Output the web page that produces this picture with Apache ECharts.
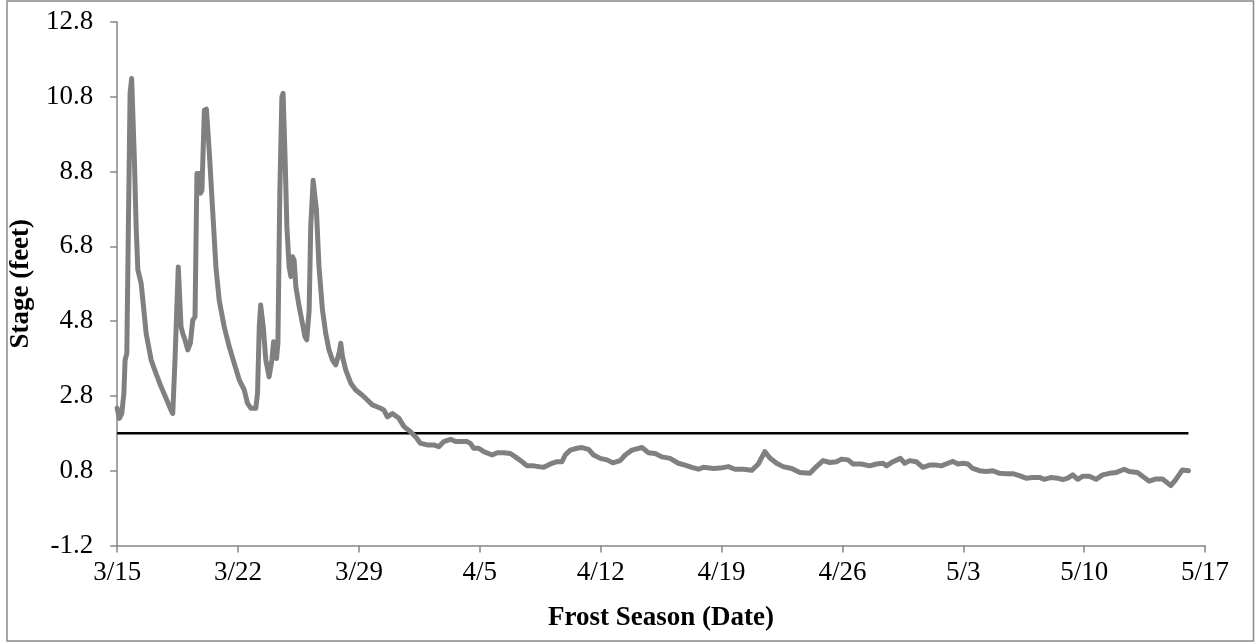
<!DOCTYPE html>
<html>
<head>
<meta charset="utf-8">
<script src="https://cdn.jsdelivr.net/npm/echarts@6/dist/echarts.min.js"></script>
<style>
html,body{margin:0;padding:0;background:#fff;}
#chart{width:1255px;height:643px;}
</style>
</head>
<body>
<div id="chart"></div>
<script>
// Days since 3/15 (x) and river stage in feet (y)
const days = [0.0,0.13,0.27,0.39,0.46,0.56,0.65,0.75,0.84,1.0,1.1,1.2,1.39,1.49,1.68,1.97,2.25,2.54,2.83,3.12,3.22,3.35,3.54,3.7,3.8,3.93,4.09,4.24,4.38,4.51,4.62,4.76,4.82,4.91,5.05,5.17,5.34,5.53,5.72,5.91,6.2,6.49,6.78,7.07,7.36,7.55,7.75,8.03,8.13,8.23,8.31,8.46,8.61,8.8,8.96,9.06,9.15,9.23,9.31,9.42,9.54,9.61,9.73,9.83,9.96,10.06,10.16,10.25,10.35,10.54,10.73,10.88,10.98,11.12,11.21,11.35,11.45,11.54,11.69,11.89,12.08,12.27,12.47,12.66,12.85,12.95,13.05,13.24,13.53,13.82,14.2,14.49,14.78,15.26,15.45,15.65,15.94,16.32,16.61,16.99,17.28,17.57,17.96,18.34,18.63,18.92,19.31,19.6,19.98,20.27,20.46,20.65,20.94,21.23,21.72,22.01,22.39,22.77,23.06,23.45,23.74,24.12,24.41,24.7,25.09,25.47,25.76,25.95,26.24,26.63,26.92,27.3,27.59,27.98,28.36,28.71,29.13,29.42,29.81,30.39,30.77,31.16,31.54,32.02,32.5,32.89,33.28,33.66,33.95,34.53,34.91,35.39,35.78,36.26,36.75,37.13,37.51,37.8,38.19,38.57,39.06,39.54,40.12,40.5,40.88,41.27,41.66,41.95,42.33,42.62,43.1,43.58,43.97,44.35,44.55,44.93,45.36,45.61,45.9,46.28,46.66,47.05,47.44,47.73,48.11,48.4,48.69,48.98,49.27,49.55,49.94,50.33,50.71,51.1,51.48,51.87,52.25,52.64,53.02,53.41,53.7,54.09,54.47,54.76,55.05,55.34,55.63,55.91,56.3,56.69,57.07,57.46,57.84,58.32,58.61,59.09,59.38,59.77,60.16,60.54,61.02,61.31,61.69,62.04];
const stage = [2.47,2.2,2.33,2.87,3.76,3.94,7.32,10.9,11.29,9.1,7.32,6.17,5.81,5.36,4.47,3.76,3.4,3.05,2.74,2.42,2.33,3.76,6.25,4.65,4.47,4.3,4.03,4.21,4.83,4.92,8.75,8.75,8.22,8.3,10.44,10.47,9.29,7.77,6.25,5.36,4.65,4.12,3.67,3.23,2.96,2.6,2.47,2.47,2.87,4.65,5.23,4.65,3.76,3.31,3.76,4.25,4.2,3.8,4.21,8.22,10.8,10.89,9.1,7.32,6.25,5.99,6.52,6.43,5.72,5.19,4.74,4.38,4.3,5.1,7.32,8.57,8.62,7.77,6.25,5.1,4.47,4.03,3.76,3.63,3.94,4.21,3.85,3.49,3.14,2.96,2.82,2.69,2.56,2.47,2.42,2.24,2.33,2.2,1.98,1.84,1.71,1.53,1.49,1.49,1.44,1.58,1.64,1.58,1.58,1.58,1.53,1.4,1.4,1.31,1.22,1.28,1.28,1.26,1.17,1.04,0.93,0.93,0.91,0.89,0.98,1.04,1.04,1.22,1.35,1.4,1.42,1.37,1.22,1.13,1.09,1.01,1.07,1.22,1.35,1.42,1.28,1.26,1.17,1.13,1.0,0.95,0.89,0.84,0.89,0.86,0.87,0.91,0.84,0.84,0.81,0.98,1.31,1.14,1.0,0.91,0.86,0.75,0.73,0.91,1.07,1.02,1.04,1.11,1.09,0.98,0.98,0.93,0.98,1.0,0.93,1.04,1.13,1.0,1.07,1.04,0.89,0.95,0.95,0.93,1.0,1.05,0.98,1.0,0.98,0.86,0.8,0.78,0.8,0.73,0.72,0.72,0.67,0.6,0.62,0.62,0.57,0.62,0.6,0.56,0.6,0.69,0.57,0.65,0.65,0.57,0.69,0.73,0.75,0.84,0.78,0.75,0.65,0.52,0.58,0.58,0.4,0.56,0.82,0.8];
// Threshold stage line
const thresholdDays = [0, 62.04];
const thresholdStage = [1.8, 1.8];
// Tick labels
const xTickLabels = ['3/15','3/22','3/29','4/5','4/12','4/19','4/26','5/3','5/10','5/17'];
const yTickLabels = ['-1.2','0.8','2.8','4.8','6.8','8.8','10.8','12.8'];

const FONT = 'Liberation Serif';
const axisGray = '#868686';
const chart = echarts.init(document.getElementById('chart'), null, {renderer: 'canvas'});
chart.setOption({
  animation: false,
  backgroundColor: '#ffffff',
  graphic: [{
    type: 'rect', z: 100, silent: true,
    shape: {x: 7, y: 1, width: 1246.5, height: 640},
    style: {fill: 'none', stroke: '#8a8a8a', lineWidth: 1.5}
  }],
  grid: {left: 116, right: 50, top: 22, bottom: 97.5, containLabel: false},
  xAxis: {
    type: 'value', min: 0, max: 63, interval: 7,
    name: 'Frost Season (Date)', nameLocation: 'middle', nameGap: 59,
    nameTextStyle: {fontFamily: FONT, fontWeight: 'bold', fontSize: 27, color: '#000'},
    axisLine: {show: true, onZero: false, lineStyle: {color: axisGray, width: 1.5}},
    axisTick: {show: true, inside: false, length: 7, lineStyle: {color: axisGray, width: 1.5}},
    axisLabel: {
      margin: 14, fontFamily: FONT, fontSize: 27, color: '#000',
      showMinLabel: true, showMaxLabel: true,
      formatter: v => xTickLabels[Math.round(v / 7)]
    },
    splitLine: {show: false}
  },
  yAxis: [{
    type: 'value', min: -1.2, max: 12.8, show: false, splitLine: {show: false}
  }, {
    type: 'value', min: 0, max: 14, interval: 2, position: 'left',
    name: 'Stage (feet)', nameLocation: 'middle', nameGap: 76, nameRotate: 90,
    nameTextStyle: {fontFamily: FONT, fontWeight: 'bold', fontSize: 27, color: '#000'},
    axisLine: {show: true, lineStyle: {color: axisGray, width: 1.5}},
    axisTick: {show: true, inside: false, length: 7, lineStyle: {color: axisGray, width: 1.5}},
    axisLabel: {
      margin: 24, fontFamily: FONT, fontSize: 27, color: '#000',
      showMinLabel: true, showMaxLabel: true,
      formatter: v => yTickLabels[Math.round(v / 2)]
    },
    splitLine: {show: false}
  }],
  series: [{
    type: 'line', yAxisIndex: 0, z: 2,
    data: thresholdDays.map((d, i) => [d, thresholdStage[i]]),
    symbol: 'none', lineStyle: {color: '#000', width: 2.5}
  }, {
    type: 'line', yAxisIndex: 0, z: 3,
    data: days.map((d, i) => [d, stage[i]]),
    symbol: 'none', smooth: false,
    lineStyle: {color: '#808080', width: 5, join: 'round', cap: 'round'}
  }]
});
</script>
</body>
</html>
